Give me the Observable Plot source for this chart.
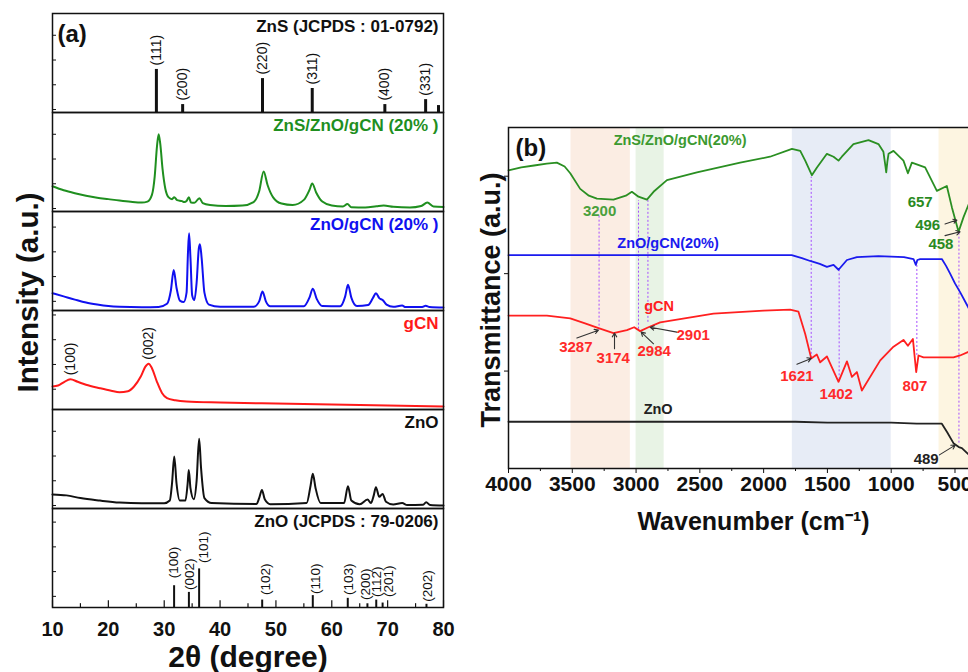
<!DOCTYPE html>
<html><head><meta charset="utf-8">
<script src="https://cdn.jsdelivr.net/npm/d3@7"></script>
<script src="https://cdn.jsdelivr.net/npm/@observablehq/plot@0.6"></script>
<style>
html,body{margin:0;padding:0;background:#fff;width:968px;height:672px;overflow:hidden;}
#a{position:absolute;left:0;top:0;}
#b{position:absolute;left:460px;top:0;width:560px;}
#a svg,#b svg{max-width:none !important;}
</style></head><body><div id="a"></div><div id="b"></div>
<script>
// ---------------- Panel (a) data : XRD ----------------
const panelsA = ["znsRef", "zszg", "zg", "gcn", "zno", "znoRef"];
const panelTitles = ["ZnS (JCPDS : 01-0792)", "ZnS/ZnO/gCN (20% )", "ZnO/gCN (20% )", "gCN", "ZnO", "ZnO (JCPDS : 79-0206)"];
const panelColors = ["#111111", "#1f8f1f", "#1010f0", "#ff1a1a", "#111111", "#111111"];

const znsRefTheta = [28.6, 33.3, 47.6, 56.5, 69.5, 76.8, 79.1];
const znsRefInt   = [1.62, 0.20, 1.25, 0.85, 0.20, 0.40, 0.16];
const znsRefHkl   = ["(111)", "(200)", "(220)", "(311)", "(400)", "(331)", ""];

const znoRefTheta = [31.77, 34.42, 36.25, 47.54, 56.6, 62.86, 66.38, 67.96, 69.1, 76.95];
const znoRefInt   = [0.76, 0.49, 1.44, 0.18, 0.36, 0.25, 0.03, 0.18, 0.06, 0.01];
const znoRefHkl   = ["(100)", "(002)", "(101)", "(102)", "(110)", "(103)", "(200)", "(112)", "(201)", "(202)"];
const znoRefLabelTheta = [31.7, 34.5, 37.0, 48.1, 57.1, 63.0, 66.0, 68.0, 70.1, 77.1];
const znoRefLabelY     = [1.06, 0.59, 1.68, 0.385, 0.425, 0.385, 0.18, 0.30, 0.30, 0.11];

const gcnHkl = ["(100)", "(002)"];
const gcnHklTheta = [13.2, 27.2];
const gcnHklY = [1.10, 1.73];

const xrdZSZG = [[10,0.90],[12,0.74],[14,0.62],[16,0.52],[18,0.44],[20,0.38],[22,0.32],[24,0.27],[26,0.24],[27,0.28],[27.8,0.55],[28.3,1.3],[28.7,2.5],[29.0,3.0],[29.3,2.6],[29.7,1.6],[30.2,0.8],[30.8,0.45],[31.4,0.38],[31.8,0.46],[32.3,0.34],[33.2,0.30],[33.6,0.26],[34.0,0.30],[34.4,0.46],[34.8,0.24],[35.4,0.23],[36.3,0.42],[36.9,0.22],[38.2,0.14],[41,0.10],[44,0.12],[46,0.26],[47.0,0.7],[47.8,1.5],[48.5,0.95],[49.5,0.45],[51,0.2],[53,0.14],[55,0.35],[56.0,0.75],[56.5,1.01],[57.2,0.65],[58.3,0.28],[60,0.12],[62,0.08],[62.8,0.18],[63.5,0.05],[66,0.04],[68,0.09],[69.3,0.12],[71,0.07],[74,0.04],[76,0.10],[77.1,0.24],[78.2,0.08],[80,0.06]];
const xrdZG = [[10,0.58],[12,0.45],[14,0.32],[16,0.2],[18,0.12],[20,0.06],[22,0.03],[26,0.01],[29,0.02],[30.5,0.15],[31.2,0.7],[31.7,1.52],[32.2,0.8],[32.8,0.28],[33.5,0.22],[34.0,0.6],[34.25,2.2],[34.45,3.0],[34.7,2.0],[35.0,0.5],[35.4,0.3],[35.8,1.0],[36.2,2.4],[36.4,2.56],[36.7,2.0],[37.2,0.6],[38,0.12],[40,0.03],[46,0.03],[47,0.25],[47.6,0.65],[48.2,0.25],[49,0.05],[55,0.05],[56,0.4],[56.6,0.76],[57.3,0.35],[58.3,0.06],[61.5,0.05],[62.4,0.45],[62.9,0.92],[63.5,0.4],[64.5,0.06],[66.5,0.1],[67.4,0.4],[67.9,0.58],[68.5,0.38],[69.1,0.3],[69.8,0.12],[71,0.03],[72.6,0.08],[73.2,0.02],[76.2,0.02],[76.8,0.07],[77.5,0.02],[80,0.0]];
const xrdGCN = [[10,0.81],[11,0.85],[12,0.98],[13.2,1.10],[14.5,1.0],[16,0.88],[18.5,0.74],[20.5,0.64],[22,0.58],[23.5,0.62],[24.6,0.81],[25.8,1.21],[26.6,1.6],[27.2,1.73],[27.8,1.55],[28.7,1.0],[29.6,0.55],[30.5,0.34],[32,0.25],[34,0.2],[40,0.16],[50,0.12],[60,0.08],[70,0.04],[80,0.0]];
const xrdZnO = [[10,0.45],[12.5,0.41],[15,0.3],[18.5,0.2],[22,0.12],[26,0.09],[30,0.09],[31,0.2],[31.4,0.9],[31.8,1.98],[32.2,0.9],[32.8,0.2],[33.8,0.2],[34.2,0.9],[34.4,1.44],[34.7,0.7],[35.3,0.25],[35.8,1.0],[36.25,2.7],[36.6,1.5],[37.2,0.3],[38.5,0.1],[46.5,0.06],[47.0,0.3],[47.5,0.63],[48.0,0.25],[49,0.05],[55.5,0.1],[56.2,0.8],[56.6,1.28],[57.1,0.7],[58,0.1],[62.2,0.1],[62.9,0.78],[63.5,0.2],[65,0.05],[66.4,0.24],[67,0.1],[67.5,0.4],[67.9,0.74],[68.5,0.35],[69.1,0.47],[69.7,0.15],[71,0.04],[72.6,0.1],[73.5,0.02],[76.3,0.03],[76.9,0.13],[77.6,0.02],[80,0.0]];

const xTicksMajorA = [10, 20, 30, 40, 50, 60, 70, 80];
const xTicksMinorA = [15, 25, 35, 45, 55, 65, 75];
const yTickOffsetsA = [0, 0, 0.25, 0.7, 0, 0.33];
const yTickStepsA = [0, 1, 2, 3];

// ---------------- Panel (b) data : FTIR ----------------
const ftirZSZG = [[4000,3.06],[3900,3.09],[3800,3.11],[3700,3.13],[3621,3.14],[3560,3.10],[3516,3.03],[3438,2.87],[3370,2.80],[3307,2.77],[3177,2.76],[3080,2.80],[3033,2.84],[2981,2.79],[2915,2.76],[2863,2.84],[2758,2.96],[2523,3.04],[2184,3.14],[1950,3.20],[1778,3.28],[1713,3.26],[1674,3.16],[1622,3.01],[1582,3.09],[1504,3.23],[1452,3.20],[1413,3.16],[1387,3.20],[1296,3.33],[1178,3.37],[1100,3.33],[1061,3.25],[1045,3.10],[1039,3.04],[1030,3.15],[1021,3.23],[982,3.26],[904,3.16],[869,3.03],[838,3.14],[734,3.09],[642,2.85],[564,2.90],[524,2.68],[472,2.43],[433,2.58],[390,2.72]];
const ftirZG = [[4000,2.19],[3500,2.19],[3000,2.19],[2500,2.19],[2000,2.19],[1780,2.19],[1700,2.16],[1635,2.13],[1560,2.10],[1504,2.07],[1452,2.09],[1413,2.04],[1347,2.14],[1269,2.17],[1100,2.18],[900,2.17],[825,2.15],[807,2.09],[795,2.14],[773,2.15],[603,2.15],[570,2.08],[538,2.0],[500,1.90],[460,1.81],[390,1.64]];
const ftirGCN = [[4000,1.57],[3699,1.57],[3516,1.54],[3400,1.49],[3294,1.44],[3177,1.39],[3072,1.42],[3015,1.45],[2968,1.41],[2903,1.45],[2811,1.50],[2393,1.59],[2001,1.62],[1792,1.63],[1727,1.61],[1674,1.38],[1627,1.13],[1583,1.17],[1557,1.09],[1504,1.15],[1413,0.89],[1347,1.10],[1308,0.94],[1269,0.99],[1230,0.80],[1086,1.11],[982,1.25],[904,1.32],[869,1.26],[830,1.33],[804,0.99],[786,1.16],[747,1.14],[512,1.14],[460,1.16],[390,1.20]];
const ftirZnO = [[4000,0.48],[3000,0.48],[2000,0.48],[1750,0.48],[1500,0.47],[1000,0.47],[800,0.46],[603,0.46],[560,0.37],[512,0.26],[470,0.22],[446,0.21],[390,0.14]];

const ftirSeriesNames = ["ZnS/ZnO/gCN(20%)", "ZnO/gCN(20%)", "gCN", "ZnO"];
const ftirSeriesColors = ["#3c9a30", "#1a1aee", "#ff2020", "#222222"];
const ftirNameWn  = [2655, 2749, 2819, 2827];
const ftirNameVal = [3.37, 2.31, 1.66, 0.61];

const peakText = ["3200", "3287", "3174", "2984", "2901", "1621", "1402", "807", "489", "657", "496", "458"];
const peakWn   = [3286, 3472, 3179, 2858, 2552, 1739, 1431, 814, 726, 773, 714, 610];
const peakVal  = [2.64, 1.25, 1.13, 1.20, 1.37, 0.95, 0.76, 0.84, 0.10, 2.73, 2.50, 2.30];
const peakColor = ["#4aa03c", "#ff2a2a", "#ff2a2a", "#ff2a2a", "#ff2a2a", "#ff2a2a", "#ff2a2a", "#ff2a2a", "#222222", "#2a8a22", "#2a8a22", "#2a8a22"];

const arrowFrom = [[3464,1.34],[3169,1.23],[2863,1.28],[2680,1.40],[1739,1.07],[622,0.14],[578,2.51],[578,2.39]];
const arrowTo   = [[3295,1.42],[3169,1.39],[2960,1.40],[2889,1.45],[1627,1.13],[498,0.24],[485,2.55],[460,2.43]];

const dashWn     = [3290, 2981, 2907, 1627, 1408, 799, 469];
const dashTop    = [2.60, 2.75, 2.75, 2.99, 2.05, 2.11, 2.41];
const dashBottom = [1.42, 1.43, 1.50, 1.13, 0.91, 1.16, 0.26];

const bandFrom = [3510, 3000, 1775, 625];
const bandTo   = [3045, 2780, 1000, 300];
const bandColors = ["#fbede3", "#e8f3e5", "#e7ecf6", "#fdf5e1"];

const xTicksMajorB = [4000, 3500, 3000, 2500, 2000, 1500, 1000, 500];
const xTicksMinorB = [3750, 3250, 2750, 2250, 1750, 1250, 750];
const yTicksB = [1, 2, 3];

// ---------------- build panel (a) ----------------
const FONT = "'Liberation Sans', Arial, Helvetica, sans-serif";
const A = {w: 460, h: 672, ml: 52, mr: 17, mt: 12, mb: 65};
const bandH = (A.h - A.mt - A.mb) / panelsA.length;
const innerWA = A.w - A.ml - A.mr;
const yMinA = -0.12, yMaxA = 3.88;

const rows = (arr, p) => arr.map(([t, i]) => ({t, i, p}));
const sticks = (th, it, hk, p) => th.map((t, k) => ({t, i: it[k], h: hk[k], p}));
const znsRows = sticks(znsRefTheta, znsRefInt, znsRefHkl, "znsRef");
const znoRefRows = sticks(znoRefTheta, znoRefInt, znoRefHkl, "znoRef");
const znoRefLabRows = znoRefLabelTheta.map((t, k) => ({t, i: znoRefLabelY[k], h: znoRefHkl[k], p: "znoRef"}));
const gcnLabRows = gcnHklTheta.map((t, k) => ({t, i: gcnHklY[k], h: gcnHkl[k], p: "gcn"}));
const titleRows = panelsA.map((p, k) => ({p, s: panelTitles[k], c: panelColors[k]}));
const yTickRows = panelsA.flatMap((p, k) => yTickStepsA.map(s => ({p, v: s + yTickOffsetsA[k]})));
const xMajRows = xTicksMajorA.map(v => ({v, p: "znoRef"}));
const xMinRows = xTicksMinorA.map(v => ({v, p: "znoRef"}));

const plotA = Plot.plot({
  width: A.w, height: A.h,
  marginLeft: A.ml, marginRight: A.mr, marginTop: A.mt, marginBottom: A.mb,
  style: {fontFamily: FONT, background: "transparent", color: "#111", maxWidth: "none"},
  x: {domain: [10, 80]},
  y: {domain: [yMinA, yMaxA], axis: null},
  fy: {domain: panelsA, axis: null, padding: 0},
  marks: [
    Plot.ruleX(znsRows, {x: "t", y1: () => yMinA, y2: "i", fy: "p", stroke: "#111", strokeWidth: 3}),
    Plot.text(znsRows, {x: "t", y: "i", fy: "p", text: "h", rotate: -90, textAnchor: "start", dy: -4, fontSize: 14, fill: "#111"}),
    Plot.ruleX(znoRefRows, {x: "t", y1: () => yMinA, y2: "i", fy: "p", stroke: "#111", strokeWidth: 2}),
    Plot.text(znoRefLabRows, {x: "t", y: "i", fy: "p", text: "h", rotate: -90, textAnchor: "start", fontSize: 13.5, fill: "#111"}),
    Plot.line(rows(xrdZSZG, "zszg"), {x: "t", y: "i", fy: "p", stroke: "#1f8f1f", strokeWidth: 2, curve: "monotone-x"}),
    Plot.line(rows(xrdZG, "zg"), {x: "t", y: "i", fy: "p", stroke: "#1010f0", strokeWidth: 2, curve: "monotone-x"}),
    Plot.line(rows(xrdGCN, "gcn"), {x: "t", y: "i", fy: "p", stroke: "#ff1a1a", strokeWidth: 2, curve: "monotone-x"}),
    Plot.line(rows(xrdZnO, "zno"), {x: "t", y: "i", fy: "p", stroke: "#111", strokeWidth: 2, curve: "monotone-x"}),
    Plot.text(gcnLabRows, {x: "t", y: "i", fy: "p", text: "h", rotate: -90, textAnchor: "start", dy: -4, fontSize: 14, fill: "#111"}),
    Plot.text(titleRows, {fy: "p", text: "s", fill: "c", frameAnchor: "top-right", textAnchor: "end", lineAnchor: "middle", dx: -5, dy: 13, fontSize: 17, fontWeight: "bold"}),
    Plot.tickY(yTickRows, {y: "v", fy: "p", insetRight: innerWA - 4, stroke: "#111", strokeWidth: 1}),
    Plot.tickX(xMajRows, {x: "v", fy: "p", insetTop: bandH - 7, stroke: "#111", strokeWidth: 1.2}),
    Plot.tickX(xMinRows, {x: "v", fy: "p", insetTop: bandH - 4, stroke: "#111", strokeWidth: 1.2}),
    Plot.frame({stroke: "#111", strokeWidth: 1.5}),
    Plot.text([{p: "znsRef", s: "(a)"}], {fy: "p", text: "s", frameAnchor: "top-left", textAnchor: "start", lineAnchor: "middle", dx: 5, dy: 21, fontSize: 24, fontWeight: "bold", fill: "#111"}),
    Plot.axisX({ticks: xTicksMajorA, tickSize: 0, tickPadding: 14, fontSize: 20, fontWeight: "bold", label: null}),
    Plot.text([{p: "znoRef", s: "2θ (degree)"}], {fy: "p", text: "s", frameAnchor: "bottom", textAnchor: "middle", lineAnchor: "middle", dy: 50, fontSize: 30, fontWeight: "bold", fill: "#111"}),
    Plot.text([{p: "zg", s: "Intensity (a.u.)"}], {fy: "p", text: "s", frameAnchor: "bottom-left", textAnchor: "middle", lineAnchor: "middle", rotate: -90, dx: -24, dy: -18, fontSize: 29.5, fontWeight: "bold", fill: "#111"})
  ]
});
document.getElementById("a").appendChild(plotA);

// ---------------- build panel (b) ----------------
const B = {w: 560, h: 672, ml: 48, mr: 40, mt: 127, mb: 204};
const pts = arr => arr.map(([w, v]) => ({w, v}));
const bandRows = bandFrom.map((a, k) => ({a, b: bandTo[k], c: bandColors[k]}));
const dashRows = dashWn.map((w, k) => ({w, t: dashTop[k], b: dashBottom[k]}));
const arrowRows = arrowFrom.map((f, k) => ({x1: f[0], y1: f[1], x2: arrowTo[k][0], y2: arrowTo[k][1]}));
const peakRows = peakText.map((s, k) => ({s, w: peakWn[k], v: peakVal[k], c: peakColor[k]}));
const nameRows = ftirSeriesNames.map((s, k) => ({s, w: ftirNameWn[k], v: ftirNameVal[k], c: ftirSeriesColors[k]}));

const plotB = Plot.plot({
  width: B.w, height: B.h,
  marginLeft: B.ml, marginRight: B.mr, marginTop: B.mt, marginBottom: B.mb,
  style: {fontFamily: FONT, background: "transparent", color: "#111", maxWidth: "none"},
  x: {domain: [4000, 300]},
  y: {domain: [0, 3.5]},
  marks: [
    Plot.rect(bandRows, {x1: "a", x2: "b", fill: "c"}),
    Plot.ruleX(dashRows, {x: "w", y1: "b", y2: "t", stroke: "#a64dff", strokeWidth: 1, strokeDasharray: "2,2"}),
    Plot.line(pts(ftirZSZG), {x: "w", y: "v", stroke: "#2a8f22", strokeWidth: 1.8}),
    Plot.line(pts(ftirZG), {x: "w", y: "v", stroke: "#1a1aee", strokeWidth: 1.8}),
    Plot.line(pts(ftirGCN), {x: "w", y: "v", stroke: "#ff2020", strokeWidth: 1.8}),
    Plot.line(pts(ftirZnO), {x: "w", y: "v", stroke: "#222", strokeWidth: 1.8}),
    Plot.arrow(arrowRows, {x1: "x1", y1: "y1", x2: "x2", y2: "y2", stroke: "#333", strokeWidth: 1.1, headLength: 6}),
    Plot.text(peakRows, {x: "w", y: "v", text: "s", fill: "c", fontSize: 15, fontWeight: "bold"}),
    Plot.text(nameRows, {x: "w", y: "v", text: "s", fill: "c", fontSize: 14.5, fontWeight: "bold"}),
    Plot.text(["(b)"], {frameAnchor: "top-left", textAnchor: "start", lineAnchor: "middle", dx: 7, dy: 21, fontSize: 24, fontWeight: "bold", fill: "#111"}),
    Plot.frame({stroke: "#111", strokeWidth: 1.5}),
    Plot.axisX({ticks: xTicksMajorB, tickSize: 5, tickPadding: 3, tickFormat: d3.format("d"), fontSize: 21, fontWeight: "bold", label: null}),
    Plot.axisX({ticks: xTicksMinorB, tickSize: 3, tickFormat: () => "", label: null}),
    Plot.axisY({ticks: yTicksB, tickSize: 4, tickFormat: () => "", label: null}),
    Plot.text(["Transmittance (a.u.)"], {frameAnchor: "left", textAnchor: "middle", lineAnchor: "middle", rotate: -90, dx: -17, dy: 2, fontSize: 27, fontWeight: "bold", fill: "#111"}),
    Plot.text(["Wavenumber (cm⁻¹)"], {frameAnchor: "bottom", textAnchor: "middle", lineAnchor: "middle", dy: 53, dx: 9, fontSize: 25, fontWeight: "bold", fill: "#111"})
  ]
});
document.getElementById("b").appendChild(plotB);
</script></body></html>
